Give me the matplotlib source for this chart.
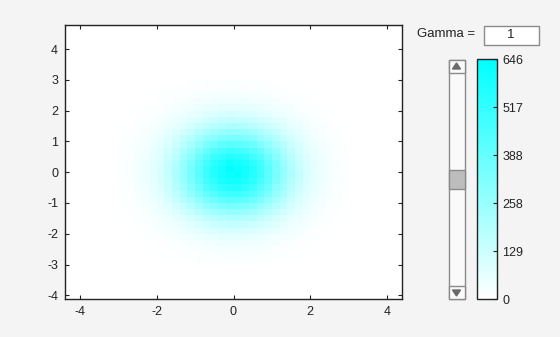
import numpy as np
import matplotlib
matplotlib.use("Agg")
import matplotlib.pyplot as plt
from matplotlib.colors import LinearSegmentedColormap
from matplotlib.patches import Rectangle, Polygon

plt.rcParams['font.family'] = ['Liberation Sans', 'DejaVu Sans']
plt.rcParams['axes.unicode_minus'] = False

# 2D histogram counts, bins of 0.2 from -3 to 3 (rows top y=2.9 -> bottom y=-2.9)
counts = [
    [0,0,1,1,1,2,3,3,4,6,5,7,9,8,10, 9,8,7,8,5,5,3,3,2,2,1,1,0,1,0],
    [0,1,1,1,2,3,5,6,7,9,12,13,15,17,15, 17,16,12,14,10,8,7,5,4,3,2,1,1,0,0],
    [1,1,2,2,3,5,8,10,11,16,19,21,26,25,29, 27,27,23,20,17,14,12,9,6,5,3,2,1,1,0],
    [1,1,2,3,5,8,10,16,20,23,31,34,41,42,46, 43,45,37,36,31,25,18,14,12,8,5,3,2,1,1],
    [1,2,3,5,7,12,17,22,31,37,48,53,60,68,70, 67,71,59,55,45,39,31,24,15,10,8,5,4,2,1],
    [2,3,5,8,11,16,25,33,46,58,67,84,90,101,106, 100,97,93,79,71,55,43,35,23,18,10,7,5,3,1],
    [2,4,7,10,17,25,34,49,63,83,97,118,129,145,150, 146,140,133,113,101,79,66,46,36,23,16,11,6,4,2],
    [3,5,9,14,24,33,49,67,86,114,138,157,184,193,207, 201,199,178,162,135,110,90,64,49,35,22,16,9,5,3],
    [4,7,11,20,29,46,63,90,118,146,183,209,243,255,272, 266,262,236,214,178,150,114,87,66,44,31,19,12,7,4],
    [5,9,16,23,39,56,83,110,150,185,232,272,300,333,340, 345,325,307,266,226,191,146,114,79,58,37,25,14,8,4],
    [6,11,19,29,47,70,97,138,178,232,277,333,367,405,421, 414,398,374,324,283,226,183,133,101,67,45,31,17,11,6],
    [7,13,21,36,53,82,118,157,214,266,333,382,440,468,495, 487,476,430,390,324,272,208,163,114,80,55,34,23,12,7],
    [8,14,25,38,62,90,133,178,242,300,375,431,497,527,557, 548,535,486,440,366,307,236,184,128,92,60,39,23,15,8],
    [9,16,27,42,67,98,144,194,262,325,406,467,536,572,606, 593,580,528,476,398,333,255,198,140,99,65,44,26,16,9],
    [9,16,28,46,70,101,150,206,266,346,414,495,549,603,646, 620,596,557,486,421,338,272,201,146,105,68,44,27,16,9],
    [9,17,27,44,68,104,146,202,271,339,421,488,557,594,618, 631,601,549,495,415,345,265,207,150,101,70,46,29,15,9],
    [9,15,26,44,65,100,140,198,256,332,399,475,528,581,596, 602,571,536,467,405,326,262,193,143,97,67,42,25,17,8],
    [8,15,23,40,60,92,129,183,237,307,368,438,488,535,550, 557,528,494,432,374,300,241,179,131,89,62,38,24,14,8],
    [7,12,22,34,55,80,117,161,210,272,326,389,431,474,488, 494,468,438,383,331,266,214,158,115,82,53,36,21,13,7],
    [6,11,18,31,45,68,100,134,183,227,283,326,375,399,421, 416,405,368,332,277,231,179,138,98,70,46,29,18,11,6],
    [5,9,14,25,37,58,80,113,146,190,227,272,302,331,345, 339,327,306,266,231,186,150,110,82,56,39,24,15,9,5],
    [4,7,12,18,31,44,65,87,117,146,182,210,241,257,268, 271,261,237,214,178,150,116,89,63,45,29,20,12,7,4],
    [3,5,9,16,22,35,47,67,87,113,135,162,179,198,203, 206,194,183,158,137,111,88,65,49,33,23,15,9,5,3],
    [2,4,7,11,16,24,36,47,65,80,100,115,132,141,149, 147,143,130,117,98,82,63,49,34,24,16,11,7,4,2],
    [2,3,5,7,12,17,23,35,44,58,68,82,90,100,104, 102,98,92,80,70,56,46,33,25,16,11,7,5,3,2],
    [1,2,3,5,8,11,16,22,31,38,46,55,60,67,70, 68,66,62,53,47,37,29,23,16,11,8,5,3,2,1],
    [1,1,2,3,5,7,11,15,19,25,30,34,40,43,45, 44,42,39,36,29,24,20,15,11,7,5,3,2,1,1],
    [0,1,1,2,3,5,7,9,12,15,18,22,25,27,28, 27,26,24,21,18,15,12,9,7,5,3,2,1,1,0],
    [0,0,1,1,2,3,4,5,7,9,11,13,14,16,17, 16,15,14,13,11,9,7,5,4,3,2,1,1,0,0],
    [0,0,0,1,1,2,2,3,4,5,6,7,8,9,9, 10,9,8,7,6,5,4,3,2,2,1,1,0,0,0],
]
x_edges = np.linspace(-3, 3, 31)
y_edges = np.linspace(3, -3, 31)
gamma = 1

bg = '#f4f4f4'
fig = plt.figure(figsize=(5.6, 3.37), dpi=100, facecolor=bg)

cmap = LinearSegmentedColormap.from_list('wc', ['#ffffff', '#00ffff'])
C = np.array(counts, dtype=float)
vmax = C.max()

W, H = 560, 337
def rect(l, t, r, b):
    return [l / W, (H - b) / H, (r - l) / W, (b - t) / H]

ax = fig.add_axes(rect(65, 25, 402, 299))
mesh = ax.pcolormesh(x_edges, y_edges, C ** gamma, cmap=cmap, vmin=0, vmax=vmax ** gamma)
ax.set_xlim(-4.39, 4.39)
ax.set_ylim(-4.12, 4.78)
ax.set_xticks([-4, -2, 0, 2, 4])
ax.set_yticks(range(-4, 5))
ax.tick_params(direction='in', top=True, right=True, labelsize=9, length=3,
               colors='#222222', pad=5)
for s in ax.spines.values():
    s.set_linewidth(1.0)
    s.set_color('#222222')

# colorbar
cax = fig.add_axes(rect(477, 59, 497, 299))
cb = fig.colorbar(mesh, cax=cax)
ticks = np.linspace(0, vmax, 6)
cb.set_ticks(ticks)
cb.set_ticklabels([str(int(round(t))) for t in ticks])
cax.tick_params(direction='in', labelsize=9, length=3, colors='#222222', pad=4)
cb.outline.set_linewidth(1.0)
cb.outline.set_edgecolor('#222222')

# widgets overlay in pixel coordinates
ov = fig.add_axes([0, 0, 1, 1], facecolor='none')
ov.set_xlim(0, W)
ov.set_ylim(H, 0)
ov.axis('off')
ov.set_zorder(-1)

ov.text(446.5, 34, 'Gamma =', ha='center', va='center', fontsize=9.5, color='#222222')
ov.add_patch(Rectangle((483.5, 25.5), 55, 19, facecolor='white', edgecolor='#8a8a8a', lw=1))
ov.text(511, 35, str(gamma), ha='center', va='center', fontsize=9.5, color='#222222')

# slider
ov.add_patch(Rectangle((448.5, 59.5), 16, 239.5, facecolor='#fafafa', edgecolor='#8a8a8a', lw=1))
ov.add_patch(Rectangle((448.5, 59.5), 16, 13, facecolor='#fafafa', edgecolor='#8a8a8a', lw=1))
ov.add_patch(Rectangle((448.5, 286), 16, 13, facecolor='#fafafa', edgecolor='#8a8a8a', lw=1))
ov.add_patch(Polygon([[452.5, 69], [460.5, 69], [456.5, 63]], closed=True, color='#6a6a6a'))
ov.add_patch(Polygon([[452.5, 290], [460.5, 290], [456.5, 296]], closed=True, color='#6a6a6a'))
ov.add_patch(Rectangle((448.5, 170), 16, 18.5, facecolor='#bdbdbd', edgecolor='#8a8a8a', lw=1))

fig.savefig('out.png', dpi=100, facecolor=bg)
